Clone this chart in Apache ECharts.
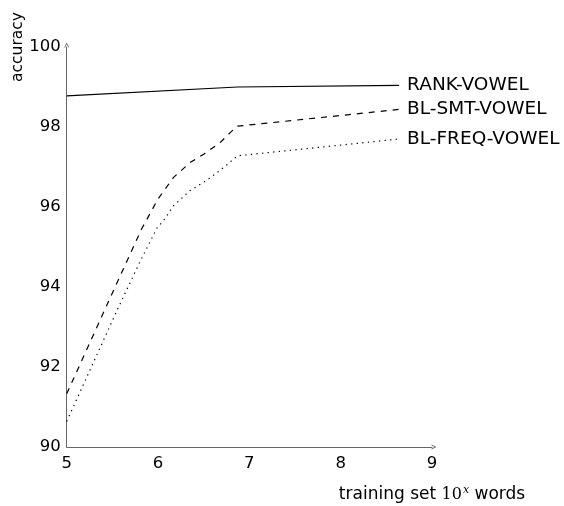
<!DOCTYPE html>
<html>
<head>
<meta charset="utf-8">
<script src="https://cdn.jsdelivr.net/npm/echarts@6/dist/echarts.min.js"></script>
<style>html,body{margin:0;padding:0;background:#fff}#c{width:564px;height:506px}</style>
</head>
<body>
<div id="c"></div>
<script>
const seriesNames = ['RANK-VOWEL', 'BL-SMT-VOWEL', 'BL-FREQ-VOWEL'];
const rankX = [5, 6.87, 8.64];
const rankY = [98.78, 99.0, 99.04];
const smtX = [5, 5.5, 5.82, 6.0, 6.17, 6.35, 6.5, 6.68, 6.79, 6.87, 8.64];
const smtY = [91.33, 93.85, 95.45, 96.2, 96.74, 97.11, 97.32, 97.61, 97.86, 98.02, 98.44];
const freqX = [5, 5.56, 5.8, 5.99, 6.06, 6.17, 6.35, 6.53, 6.72, 6.87, 8.64];
const freqY = [90.64, 93.46, 94.62, 95.48, 95.66, 96.03, 96.41, 96.66, 96.99, 97.28, 97.7];
const xTicks = [5, 6, 7, 8, 9];
const yTicks = [90, 92, 94, 96, 98, 100];

const pair = (xs, ys) => xs.map((x, i) => [x, ys[i]]);
const chevron = 'path://M0,10 L5,0 L10,10 L8.2,10 L5,3.6 L1.8,10 Z';
const FONT = 'DejaVu Sans';

const chart = echarts.init(document.getElementById('c'), null, {renderer: 'canvas'});
const lineStyleBase = {color: '#000', width: 1.2};
const mk = (name, data, dash) => ({
  name, type: 'line', data, symbol: 'none', silent: true, animation: false,
  lineStyle: Object.assign({}, lineStyleBase, dash ? {type: dash, cap: 'butt'} : {}),
  endLabel: {show: true, formatter: name, distance: 8, color: '#000', fontFamily: FONT, fontSize: 18.5}
});
const axisLine = {show: true, lineStyle: {color: '#666', width: 1}, symbol: ['none', chevron], symbolSize: [7, 5], symbolOffset: [0, 2]};

chart.setOption({
  animation: false,
  backgroundColor: '#fff',
  grid: {left: 66.7, right: 132, top: 47, bottom: 59, containLabel: false},
  xAxis: {
    type: 'value', min: 5, max: 9, interval: 1,
    axisLine: axisLine,
    axisTick: {show: false}, splitLine: {show: false},
    axisLabel: {color: '#000', fontFamily: FONT, fontSize: 16.5, margin: 8,
      formatter: v => xTicks.includes(v) ? String(v) : ''}
  },
  yAxis: {
    type: 'value', min: 90, max: 100, interval: 2,
    axisLine: axisLine,
    axisTick: {show: false}, splitLine: {show: false},
    axisLabel: {color: '#000', fontFamily: FONT, fontSize: 16.5, margin: 6, padding: [4, 0, 0, 0],
      formatter: v => yTicks.includes(v) ? String(v) : ''}
  },
  series: [
    mk(seriesNames[0], pair(rankX, rankY), null),
    mk(seriesNames[1], pair(smtX, smtY), [6, 6]),
    mk(seriesNames[2], pair(freqX, freqY), [1.3, 4.3])
  ],
  graphic: [
    {type: 'text', x: 18, y: 47, rotation: Math.PI / 2,
      style: {text: 'accuracy', fontFamily: FONT, fontSize: 15.5, fill: '#000', align: 'center', verticalAlign: 'middle'}},
    {type: 'text', x: 432, y: 495,
      style: {
        text: '{a|training set }{m|10}{s|x}{a| words}',
        align: 'center', verticalAlign: 'middle',
        rich: {
          a: {fontFamily: FONT, fontSize: 17, fill: '#000'},
          m: {fontFamily: 'DejaVu Serif', fontSize: 16, fill: '#000'},
          s: {fontFamily: 'DejaVu Serif', fontStyle: 'italic', fontSize: 11, fill: '#000', padding: [0, 0, 10, 1]}
        }
      }}
  ]
});
</script>
</body>
</html>
